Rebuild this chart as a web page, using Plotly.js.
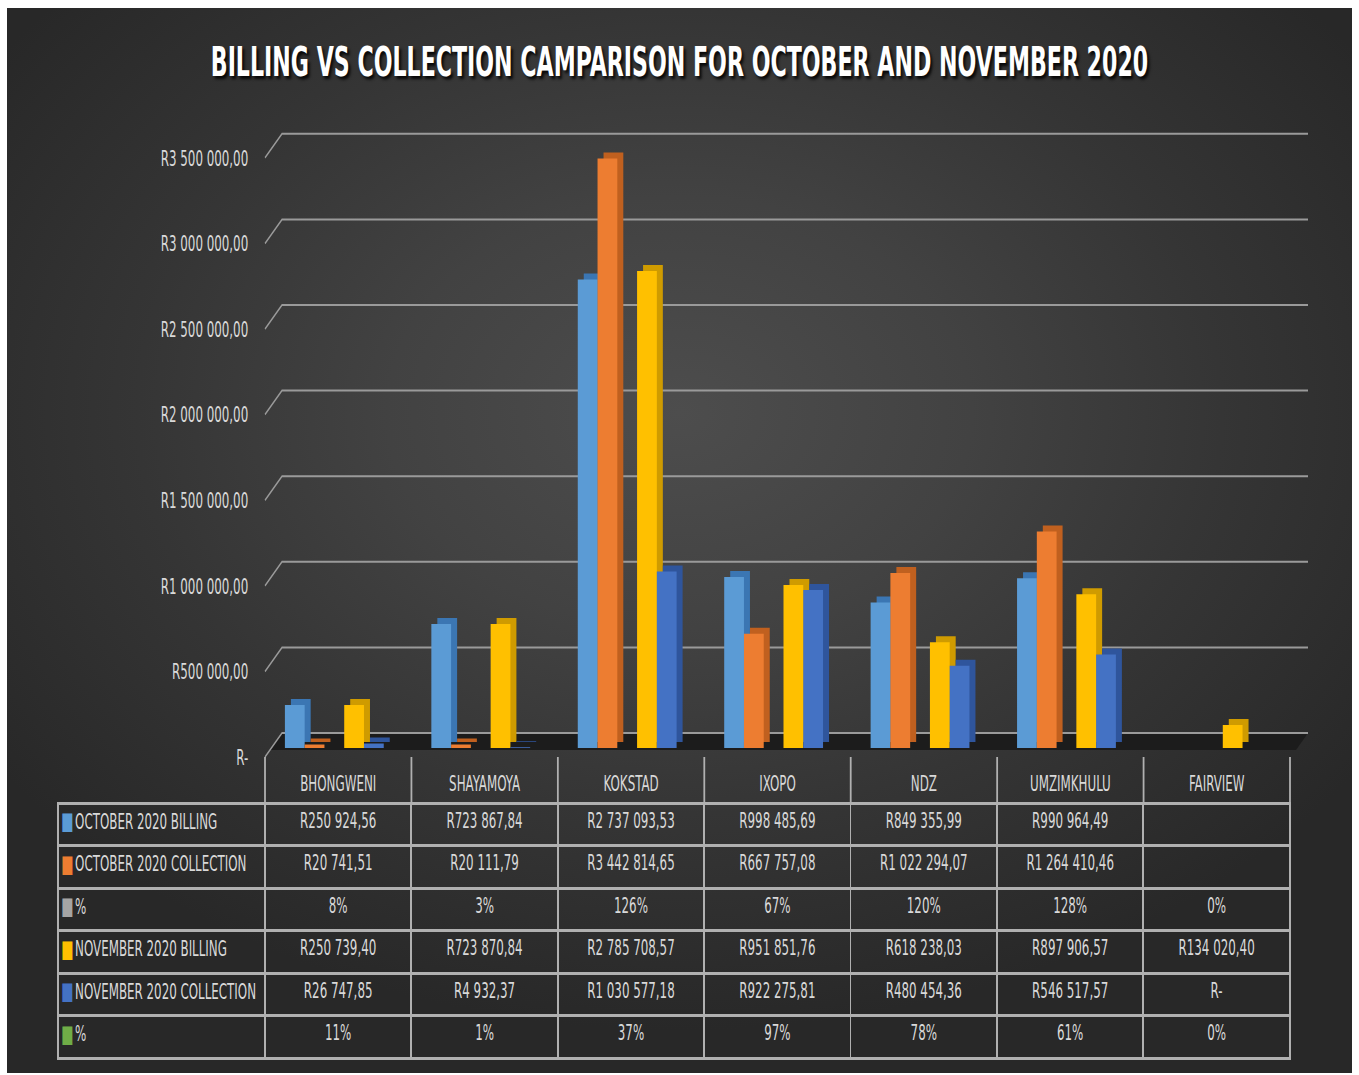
<!DOCTYPE html>
<html>
<head>
<meta charset="utf-8">
<script src="https://cdn.plot.ly/plotly-3.0.1.min.js"></script>
<style>
  html, body { margin: 0; padding: 0; background: #ffffff; width: 1359px; height: 1075px; overflow: hidden; position: relative; }
  #bg { position: absolute; left: 7px; top: 8px; width: 1345px; height: 1065px;
        background: radial-gradient(ellipse 62% 58% at 50% 38%, #4d4d4d 0%, #424242 35%, #353535 65%, #282828 100%); }
  #chart { position: absolute; left: 0; top: 0; width: 2265px; height: 1075px;
           transform: scaleX(0.6); transform-origin: 0 0; }
</style>
</head>
<body>
<div id="bg"></div>
<div id="chart"></div>
<script>
// ---------------- DATA ----------------
const categories = ["BHONGWENI", "SHAYAMOYA", "KOKSTAD", "IXOPO", "NDZ", "UMZIMKHULU", "FAIRVIEW"];
const octBilling    = [250924.56, 723867.84, 2737093.53, 998485.69, 849355.99, 990964.49, null];
const octCollection = [20741.51, 20111.79, 3442814.65, 667757.08, 1022294.07, 1264410.46, null];
const octPct        = [0.08, 0.03, 1.26, 0.67, 1.20, 1.28, 0];
const novBilling    = [250739.40, 723870.84, 2785708.57, 951851.76, 618238.03, 897906.57, 134020.40];
const novCollection = [26747.85, 4932.37, 1030577.18, 922275.81, 480454.36, 546517.57, 0];
const novPct        = [0.11, 0.01, 0.37, 0.97, 0.78, 0.61, 0];
const seriesNames   = ["OCTOBER 2020 BILLING", "OCTOBER 2020 COLLECTION", "%", "NOVEMBER 2020 BILLING", "NOVEMBER 2020 COLLECTION", "%"];
const seriesColors  = ["#5b9bd5", "#ed7d31", "#a5a5a5", "#ffc000", "#4472c4", "#70ad47"];
const sideColors    = ["#3b76b3", "#c0601f", "#7f7f7f", "#cf9b00", "#2f559c", "#4d8530"];
const yTickVals     = [0, 500000, 1000000, 1500000, 2000000, 2500000, 3000000, 3500000];
const chartTitle    = "BILLING VS COLLECTION CAMPARISON FOR OCTOBER AND NOVEMBER 2020";

// ---------------- FORMATTING ----------------
function formatRand(v) {
  if (v === null || v === undefined) return "";
  if (v === 0) return "R-";
  const parts = v.toFixed(2).split(".");
  const intPart = parts[0].replace(/\B(?=(\d{3})+(?!\d))/g, " ");
  return "R" + intPart + "," + parts[1];
}
function formatPct(v) { return Math.round(v * 100) + "%"; }

const series = [octBilling, octCollection, octPct, novBilling, novCollection, novPct];
const isPct = [false, false, true, false, false, true];

// ---------------- GEOMETRY (final-pixel coordinates) ----------------
const S = 0.6;                    // horizontal condensing of the whole drawing
const W = 1359, H = 1075;
const WW = Math.round(W / S);     // wide layout width before condensing
const ZERO_PX = 748;              // pixel row of value 0 (bar base)
const PX_PER = 171.2 / 1e6;       // pixels per Rand
const Y_MIN = -60000, Y_MAX = 3750000;
const botPx = ZERO_PX - Y_MIN * PX_PER;
const topPx = ZERO_PX - Y_MAX * PX_PER;
const plotL = 265, plotR = 1290, barShift = 6, depth = 6;
const px2v = p => p / PX_PER;

const font = "'DejaVu Sans Condensed', 'DejaVu Sans', sans-serif";
const txtCol = "#d9d9d9";
const lineCol = "#b0b0b0";

// ---------------- BAR TRACES (depth faces behind, front faces on top) ----------------
const traces = [];
series.forEach((vals, i) => {
  traces.push({
    type: "bar", name: seriesNames[i] + " depth", x: categories, y: vals,
    base: px2v(depth),
    marker: { color: sideColors[i], line: { width: 0 } },
    hoverinfo: "skip", xaxis: "x", yaxis: "y"
  });
});
series.forEach((vals, i) => {
  traces.push({
    type: "bar", name: seriesNames[i], x: categories, y: vals,
    marker: { color: seriesColors[i], line: { width: 0 } },
    hoverinfo: "skip", xaxis: "x2", yaxis: "y"
  });
});

// ---------------- DATA TABLE ----------------
const cellCols = [seriesNames.map(() => "")].concat(categories.map((c, ci) =>
  series.map((vals, si) => isPct[si] ? formatPct(vals[ci]) : formatRand(vals[ci]))));

const tableTop = 757, headH = 46, rowH = 42.5, tableL = 58;
const tableBot = tableTop + headH + rowH * series.length + 4;
const colW = (plotR - plotL) / categories.length;
traces.push({
  type: "table",
  domain: { x: [tableL / W, plotR / W], y: [1 - tableBot / H, 1 - tableTop / H] },
  columnwidth: [plotL - tableL].concat(categories.map(() => colW)),
  header: {
    values: [""].concat(categories.map(() => "")),
    height: headH,
    fill: { color: "rgba(0,0,0,0)" },
    line: { width: 0, color: "rgba(0,0,0,0)" },
    font: { family: font, size: 22, color: txtCol }
  },
  cells: {
    values: cellCols,
    height: rowH,
    align: ["left"].concat(categories.map(() => "center")),
    fill: { color: "rgba(0,0,0,0)" },
    line: { width: 3, color: lineCol },
    font: { family: font, size: 22, color: txtCol }
  }
});

// row labels of the table, each with its series colour key
const rowMid = i => 1 - (tableTop + headH + rowH * i + 18) / H;
const annotations = [];
seriesNames.forEach((n, i) => {
  annotations.push({
    xref: "paper", yref: "paper", x: 60 / W, xanchor: "left",
    y: rowMid(i), yanchor: "middle", text: "■", showarrow: false,
    font: { family: font, size: 24, color: seriesColors[i] }
  });
  annotations.push({
    xref: "paper", yref: "paper", x: 74 / W, xanchor: "left",
    y: rowMid(i), yanchor: "middle", text: n, showarrow: false,
    font: { family: font, size: 22, color: txtCol }
  });
});

// ---------------- SHAPES (floor, 3D-style gridlines, header separators) ----------------
const shapes = [];
shapes.push({
  type: "path", xref: "paper", yref: "y", layer: "below",
  path: `M ${270 / W},${-px2v(2)} L ${282 / W},${px2v(15)} L ${1308 / W},${px2v(15)} L ${1296 / W},${-px2v(2)} Z`,
  fillcolor: "#1c1c1c", line: { width: 0 }
});
yTickVals.forEach(v => {
  shapes.push({
    type: "path", xref: "paper", yref: "y", layer: "below",
    path: `M ${plotL / W},${v - px2v(9)} L ${282 / W},${v + px2v(15)} L ${1308 / W},${v + px2v(15)}`,
    line: { color: "#9a9a9a", width: 2 }
  });
});
for (let k = 0; k <= categories.length; k++) {
  shapes.push({
    type: "line", xref: "paper", yref: "paper", layer: "above",
    x0: (plotL + k * colW) / W, x1: (plotL + k * colW) / W,
    y0: 1 - (tableTop + headH) / H, y1: 1 - tableTop / H,
    line: { color: lineCol, width: 3 }
  });
}

// ---------------- LAYOUT ----------------
const layout = {
  width: WW, height: H,
  margin: { l: 0, r: 0, t: 0, b: 0 },
  paper_bgcolor: "rgba(0,0,0,0)",
  plot_bgcolor: "rgba(0,0,0,0)",
  showlegend: false,
  barmode: "group",
  bargap: 0.19,
  bargroupgap: 0,
  font: { family: font, color: txtCol },
  title: {
    text: chartTitle,
    x: 0.5, xanchor: "center", xref: "paper",
    y: 1 - 62 / H, yanchor: "middle", yref: "paper",
    font: { family: font, size: 41, color: "#ffffff", weight: "bold", shadow: "3px 2px 3px rgba(0,0,0,0.85)" }
  },
  xaxis: {
    domain: [(plotL + barShift + depth) / W, (plotR + barShift + depth) / W],
    type: "category", anchor: "y",
    showticklabels: false, showgrid: false, zeroline: false, showline: false, ticks: "",
    fixedrange: true
  },
  xaxis2: {
    domain: [(plotL + barShift) / W, (plotR + barShift) / W],
    type: "category", anchor: "y",
    ticks: "",
    ticklabelshift: -barShift / S,
    ticklabelstandoff: 10,
    tickfont: { family: font, size: 22, color: txtCol },
    showgrid: false, zeroline: false, showline: false,
    fixedrange: true
  },
  yaxis: {
    domain: [1 - botPx / H, 1 - topPx / H],
    range: [Y_MIN, Y_MAX],
    tickvals: yTickVals,
    ticktext: yTickVals.map(formatRand),
    ticks: "",
    ticklabelstandoff: 47,
    ticklabelshift: 9,
    tickfont: { family: font, size: 22, color: txtCol },
    showgrid: false, zeroline: false, showline: false,
    fixedrange: true
  },
  shapes: shapes,
  annotations: annotations
};

Plotly.newPlot("chart", traces, layout, { displayModeBar: false, staticPlot: true });
</script>
</body>
</html>
